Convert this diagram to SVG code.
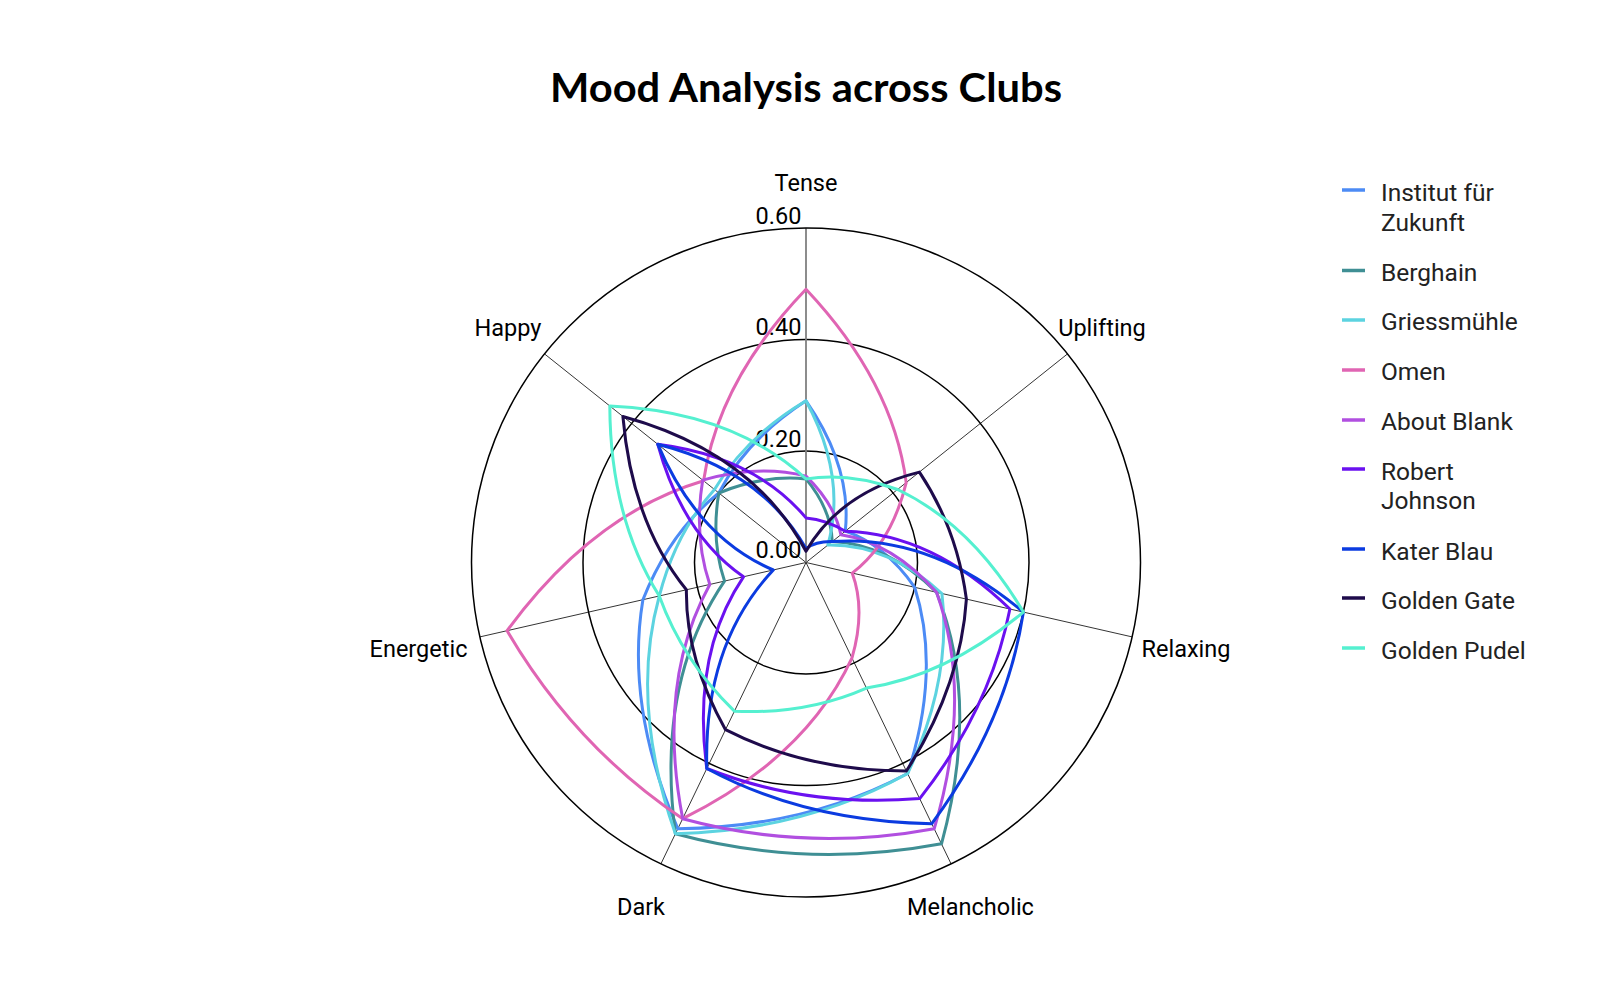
<svg xmlns="http://www.w3.org/2000/svg" width="1600" height="1000" viewBox="0 0 1600 1000">
<style>
.ring{fill:none;stroke:#000;stroke-width:1.5}
.spoke{stroke:#000;stroke-width:0.8}
.lbl{font-family:Roboto,"Liberation Sans",sans-serif;font-size:23.5px;fill:#000;text-anchor:middle}
.leg{font-family:Roboto,"Liberation Sans",sans-serif;font-size:24.5px;fill:#222}
.s{fill:none;stroke-width:3;stroke-linejoin:round}
.mk{stroke-width:3.5}
</style>
<rect width="1600" height="1000" fill="#fff"/>
<text x="806" y="102" font-family="Lato,'Open Sans',sans-serif" font-weight="bold" font-size="40" text-anchor="middle" textLength="512" lengthAdjust="spacingAndGlyphs" fill="#000">Mood Analysis across Clubs</text>
<g id="grid">
<circle class="ring" cx="806" cy="562.5" r="111.5"/>
<circle class="ring" cx="806" cy="562.5" r="223"/>
<line class="spoke" x1="806" y1="562.5" x2="1067.5" y2="353.9"/>
<line class="spoke" x1="806" y1="562.5" x2="1132.1" y2="636.9"/>
<line class="spoke" x1="806" y1="562.5" x2="951.1" y2="863.9"/>
<line class="spoke" x1="806" y1="562.5" x2="660.9" y2="863.9"/>
<line class="spoke" x1="806" y1="562.5" x2="479.9" y2="636.9"/>
<line class="spoke" x1="806" y1="562.5" x2="544.5" y2="353.9"/>
<line x1="806" y1="562.5" x2="806" y2="228" stroke="#808080" stroke-width="1.8"/>
</g>
<g id="tick-labels" class="lbl">
<text x="778.5" y="223.8">0.60</text>
<text x="778.5" y="335.3">0.40</text>
<text x="778.5" y="446.8">0.20</text>
<text x="778.5" y="558.3">0.00</text>
</g>
<g id="axis-labels" class="lbl">
<text x="806" y="191">Tense</text>
<text x="1102" y="335.5">Uplifting</text>
<text x="1186" y="656.5">Relaxing</text>
<text x="970.5" y="915">Melancholic</text>
<text x="641" y="915">Dark</text>
<text x="418.5" y="656.5">Energetic</text>
<text x="508" y="335.5">Happy</text>
</g>
<g id="series">
<g id="institut-fur-zukunft"><path class="s" stroke="#4C8BF5" d="M806,400.8 Q852,467 845.3,531.2 Q884.8,544.5 914.7,587.3 Q941.1,670.3 907.6,773.5 Q806,827.4 677.8,828.7 Q625.1,706.8 642.9,599.7 Q670.1,531.5 718.8,493 Q746.7,439.4 806,400.8 Z"/></g>
<g id="berghain"><path class="s" stroke="#3F8F94" d="M806,478.9 Q831.4,509.8 832.2,541.6 Q887.6,543.9 936.5,592.3 Q980.4,701.5 941.5,843.8 Q806,869.2 675.4,833.8 Q655.6,682.4 724.5,581.1 Q710.9,540.8 718.8,493 Q763.7,474.6 806,478.9 Z"/></g>
<g id="griessmuehle"><path class="s" stroke="#5CD3E0" d="M806,400.8 Q847.1,477.1 827.8,545.1 Q887.6,543.9 941.9,593.5 Q952.1,679 907.6,773.5 Q806,830.2 675.4,833.8 Q629.5,703.3 659.3,596 Q675.6,532.7 714.5,489.5 Q745.5,436.9 806,400.8 Z"/></g>
<g id="omen"><path class="s" stroke="#E065B3" d="M806,289.3 Q893.1,381.7 906.2,482.6 Q891.6,543 852.2,573.1 Q865.9,610.3 852,657.9 Q806,757.6 682.7,818.7 Q575,746.7 507.1,630.7 Q592.7,513.8 703.6,480.8 Q718.3,380.4 806,289.3 Z"/></g>
<g id="about-blank"><path class="s" stroke="#B14FE0" d="M806,476.1 Q834.4,503.5 840.9,534.7 Q893,542.7 936.5,592.3 Q973.8,696.3 934.2,828.7 Q806,852.4 682.7,818.7 Q656.3,681.9 709.8,584.5 Q693.5,536.8 702.7,480.1 Q758.6,464.1 806,476.1 Z"/></g>
<g id="robert-johnson"><path class="s" stroke="#6A11F0" d="M806,517.9 Q826.6,519.8 845.3,531.2 Q932.4,533.7 1009.9,609 Q990.2,709.4 919.7,798.6 Q806,807.8 706.8,768.5 Q691.6,653.8 743.5,576.8 Q682.3,534.3 657.8,444.3 Q755.2,457 806,517.9 Z"/></g>
<g id="kater-blau"><path class="s" stroke="#0B3BE0" d="M806,548.6 Q816.3,541.2 832.2,541.6 Q931,534 1023.4,612.1 Q1006.5,722.4 931.8,823.7 Q806,821.8 706.8,768.5 Q703.5,644.2 773.3,570 Q697.3,537.7 657.8,444.3 Q761.9,470.8 806,548.6 Z"/></g>
<g id="golden-gate"><path class="s" stroke="#1E0B4B" d="M806,551.3 Q839.9,492.1 919.4,472.1 Q956.9,528.1 966.4,599.1 Q960.8,685.9 906.4,771 Q806,771 725.5,729.7 Q685.5,658.6 686.4,589.8 Q632,522.8 622.9,416.5 Q752.8,452 806,551.3 Z"/></g>
<g id="golden-pudel"><path class="s" stroke="#55F0D0" d="M806,478.9 Q849.5,472.1 897.6,489.5 Q971.8,524.7 1023.4,612.1 Q947.7,675.5 866.5,688.1 Q806,714.7 734.4,711.2 Q682.7,660.9 659.3,596 Q610.3,517.8 609.8,406.1 Q733.4,411.8 806,478.9 Z"/></g>
</g>
<circle class="ring" cx="806" cy="562.5" r="334.5" stroke-width="1.8"/>
<g id="legend">
<line class="mk" x1="1342" y1="190" x2="1365" y2="190" stroke="#4C8BF5"/>
<text class="leg" x="1381" y="201">Institut für</text>
<text class="leg" x="1381" y="231">Zukunft</text>
<line class="mk" x1="1342" y1="270.5" x2="1365" y2="270.5" stroke="#3F8F94"/>
<text class="leg" x="1381" y="281">Berghain</text>
<line class="mk" x1="1342" y1="320" x2="1365" y2="320" stroke="#5CD3E0"/>
<text class="leg" x="1381" y="330">Griessmühle</text>
<line class="mk" x1="1342" y1="370" x2="1365" y2="370" stroke="#E065B3"/>
<text class="leg" x="1381" y="380">Omen</text>
<line class="mk" x1="1342" y1="420" x2="1365" y2="420" stroke="#B14FE0"/>
<text class="leg" x="1381" y="430">About Blank</text>
<line class="mk" x1="1342" y1="469" x2="1365" y2="469" stroke="#6A11F0"/>
<text class="leg" x="1381" y="479.5">Robert</text>
<text class="leg" x="1381" y="509">Johnson</text>
<line class="mk" x1="1342" y1="549" x2="1365" y2="549" stroke="#0B3BE0"/>
<text class="leg" x="1381" y="559.5">Kater Blau</text>
<line class="mk" x1="1342" y1="598" x2="1365" y2="598" stroke="#1E0B4B"/>
<text class="leg" x="1381" y="608.5">Golden Gate</text>
<line class="mk" x1="1342" y1="648" x2="1365" y2="648" stroke="#55F0D0"/>
<text class="leg" x="1381" y="658.5">Golden Pudel</text>
</g>
</svg>
